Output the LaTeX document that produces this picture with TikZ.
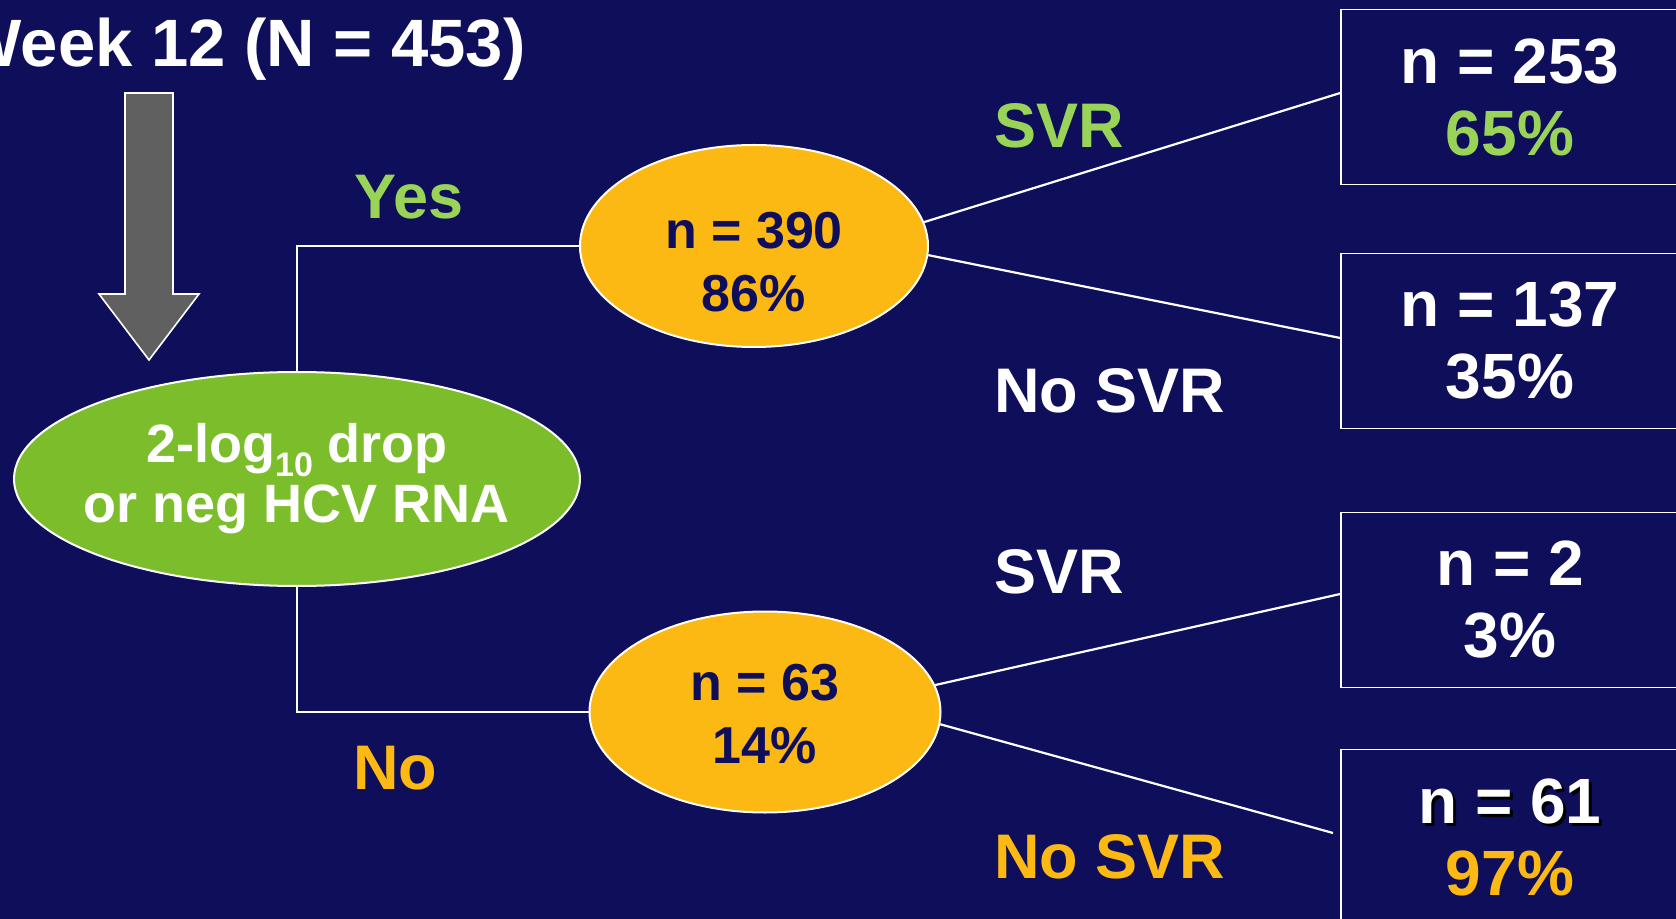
\documentclass[tikz,border=0pt]{standalone}
\usepackage{fontspec}
\setmainfont{Liberation Sans}
\usetikzlibrary{shapes.geometric}
\definecolor{bgnavy}{RGB}{14,14,90}
\definecolor{leafgreen}{RGB}{124,189,44}
\definecolor{lightgreen}{RGB}{153,212,88}
\definecolor{gold}{RGB}{253,185,19}
\definecolor{arrowgray}{RGB}{96,96,96}
\newcommand\shadowtxt[1]{\makebox[0pt][l]{\hspace{1.5pt}\raisebox{-1.5pt}{\color{black}#1}}#1}
\newcommand\lowsub[1]{\raisebox{-0.25em}{\fontsize{17}{17}\selectfont #1}}
\tikzset{
  x=0.5pt, y=-0.5pt,
  conn/.style={draw=white, line width=1.1pt},
  greenell/.style={ellipse, draw=white, line width=1pt, fill=leafgreen, inner ysep=0pt, inner xsep=-8pt,
    minimum width=283pt, minimum height=107pt, text=white, align=center,
    font=\fontsize{27}{30}\selectfont\bfseries},
  goldell/.style={ellipse, draw=white, line width=1pt, fill=gold, inner sep=0pt,
    minimum width=174pt, minimum height=101pt},
  goldtxt/.style={inner sep=0pt, text=bgnavy, align=center,
    font=\fontsize{26}{31.5}\selectfont\bfseries},
  outbox/.style={rectangle, draw=white, line width=0.8pt, inner sep=0pt,
    minimum width=169pt, minimum height=87.5pt, text=white, align=center,
    font=\fontsize{32}{36}\selectfont\bfseries},
  lbl/.style={anchor=base, inner sep=0pt, font=\fontsize{31.5}{36}\selectfont\bfseries},
}
\begin{document}
\begin{tikzpicture}
\fill[bgnavy] (0,0) rectangle (1676,919);
\useasboundingbox (0,0) rectangle (1676,919);

% title
\node[anchor=base east, inner sep=0pt, text=white, font=\fontsize{33.5}{36}\selectfont\bfseries]
  (title) at (526,67) {Week 12 (N = 453)};

% gray arrow
\draw[white, line width=0.8pt, fill=arrowgray, line join=miter]
  (125,93) -- (173,93) -- (173,294) -- (199,294) -- (149,360) -- (99,294) -- (125,294) -- cycle;

% ellipses
\node[greenell] (g) at (297,479) {2-log\lowsub{10} drop\\or neg HCV RNA};
\node[goldell] (e1) at (754,246) {};
\node[goldtxt] (e1t) at ([yshift=-8pt]e1.center) {n = 390\\86\%};
\node[goldell, minimum width=175.5pt, minimum height=100.5pt] (e2) at (765,712) {};
\node[goldtxt] (e2t) at ([yshift=-1pt]e2.center) {n = 63\\14\%};

% boxes
\node[outbox] (b1) at (1510,97) {n = 253\\\textcolor{lightgreen}{65\%}};
\node[outbox] (b2) at (1510,341) {n = 137\\35\%};
\node[outbox] (b3) at (1510,600) {n = 2\\3\%};
\node[outbox] (b4) at (1510,837) {\shadowtxt{n = 61}\\\textcolor{gold}{97\%}};

% connectors
\draw[conn] (g.north) |- (e1.west);
\draw[conn] (g.south) |- (e2.west);
\draw[conn] (e1.8) -- (b1.west |- 0,93);
\draw[conn] (e1.-3) -- (b2.west |- 0,338);
\draw[conn] (e2.9) -- (b3.west |- 0,594);
\coordinate (b4end) at (1333,833);
\draw[conn] (e2.-4) -- (b4end);

% labels
\node[lbl, text=lightgreen] (yes) at (409,219) {Yes};
\node[lbl, text=gold] (no) at (395,789) {No};
\node[lbl, text=lightgreen, anchor=base west] (svr1) at (994,148) {SVR};
\node[lbl, text=white, anchor=base west] (nosvr1) at (994,413) {No SVR};
\node[lbl, text=white, anchor=base west] (svr2) at (994,593) {SVR};
\node[lbl, text=gold, anchor=base west] (nosvr2) at (994,878) {No SVR};
\end{tikzpicture}
\end{document}
